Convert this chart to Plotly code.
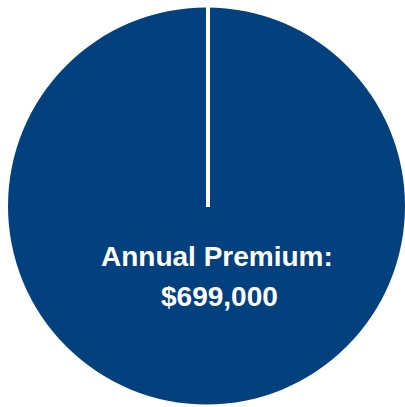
import plotly.graph_objects as go

labels = ["Annual Premium"]
values = [699000]
colors = ["#03407e"]
label_text = "Annual Premium:"
value_text = "$699,000"

W, H = 405, 407
cx, cy, r = 207, 206, 199

fig = go.Figure(go.Pie(
    labels=labels,
    values=values,
    marker=dict(colors=colors, line=dict(width=0)),
    textinfo="none",
    hoverinfo="none",
    sort=False,
    showlegend=False,
    domain=dict(x=[(cx - r) / W, min(1, (cx + r) / W)],
                y=[(H - cy - r) / H, (H - cy + r) / H]),
))

# white radial divider from the centre up to the top
fig.add_shape(type="line", xref="paper", yref="paper",
              x0=208 / W, x1=208 / W, y0=1 - 207 / H, y1=1,
              line=dict(color="white", width=4))

fig.add_annotation(text=f"<b>{label_text}</b>", xref="paper", yref="paper",
                   x=217 / W, y=1 - 256 / H, showarrow=False,
                   xanchor="center", yanchor="middle",
                   font=dict(family="Liberation Sans, Arial", size=28, color="white"))
fig.add_annotation(text=f"<b>{value_text}</b>", xref="paper", yref="paper",
                   x=219 / W, y=1 - 296 / H, showarrow=False,
                   xanchor="center", yanchor="middle",
                   font=dict(family="Liberation Sans, Arial", size=28, color="white"))

fig.update_layout(width=W, height=H, margin=dict(l=0, r=0, t=0, b=0),
                  paper_bgcolor="white", plot_bgcolor="white")
fig.write_html("out.html", config={"displayModeBar": False})
